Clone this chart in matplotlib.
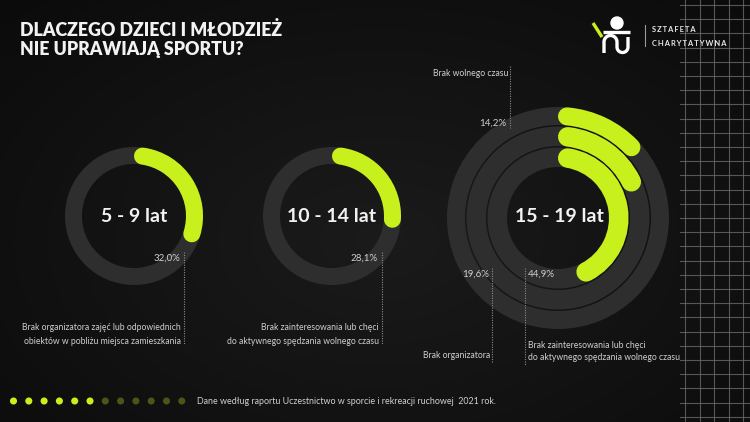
import matplotlib
matplotlib.use("Agg")
import matplotlib.pyplot as plt
import numpy as np
from matplotlib.patches import Wedge, Arc, Circle, PathPatch
from matplotlib.path import Path

# ---------------- data ----------------
title_lines = ["DLACZEGO DZIECI I MŁODZIEŻ", "NIE UPRAWIAJĄ SPORTU?"]
age_groups = ["5 - 9 lat", "10 - 14 lat", "15 - 19 lat"]
small_values = [32.0, 28.1]
small_reasons = [
    ["Brak organizatora zajęć lub odpowiednich", "obiektów w pobliżu miejsca zamieszkania"],
    ["Brak zainteresowania lub chęci", "do aktywnego spędzania wolnego czasu"],
]
big_values = [14.2, 19.6, 44.9]  # outer, middle, inner ring
big_reasons = [
    ["Brak wolnego czasu"],
    ["Brak organizatora"],
    ["Brak zainteresowania lub chęci", "do aktywnego spędzania wolnego czasu"],
]
footer_text = "Dane według raportu Uczestnictwo w sporcie i rekreacji ruchowej  2021 rok."
logo_lines = ["SZTAFETA", "CHARYTATYWNA"]
footer_dots_on = 6
footer_dots_total = 12

# ---------------- style ----------------
W, H = 750, 422
GREEN = "#c8f01c"
DIM = "#4a5519"
RING = "#2e2e2e"
TXT = "#f2f2f2"
LBL = "#cfcfcf"
FONT = "Lato"
SMALL = 6.2

fig = plt.figure(figsize=(W / 100, H / 100), dpi=100)
ax = fig.add_axes([0, 0, 1, 1])
ax.set_xlim(0, W)
ax.set_ylim(0, H)
ax.set_aspect("equal")
ax.axis("off")


def Y(py):
    return H - py


def fmt(v):
    return f"{v:.1f}%".replace(".", ",")


# background gradient
yy, xx = np.mgrid[0:H, 0:W]
d = np.sqrt(((xx - 380) / 520.0) ** 2 + ((yy - 240) / 330.0) ** 2)
v = np.clip(0.105 - 0.06 * d, 0.035, 0.11)
bg = np.dstack([v, v, v])
ax.imshow(bg, extent=[0, W, 0, H], origin="upper", zorder=0, interpolation="bilinear")

# grid on the right
gx0 = 680
for gx in np.arange(685, W, 14.5):
    ax.plot([gx, gx], [0, H], color="#6a6a6a", lw=0.8, alpha=0.8, zorder=1)
for gy in np.arange(5, H, 14.2):
    ax.plot([gx0, W], [Y(gy), Y(gy)], color="#6a6a6a", lw=0.8, alpha=0.8, zorder=1)


def ring_arc(cx, cy, r_in, r_out, pct, z=3):
    thick = r_out - r_in
    r_mid = (r_in + r_out) / 2
    ax.add_patch(Wedge((cx, Y(cy)), r_out, 0, 360, width=thick, color=RING, zorder=2, lw=0))
    cap = np.degrees((thick / 2) / r_mid)
    sweep = 360 * pct / 100.0
    theta2 = 90 - cap
    theta1 = 90 - sweep + cap
    lw_pt = thick * 72 / 100.0
    arc = Arc((cx, Y(cy)), 2 * r_mid, 2 * r_mid, theta1=theta1, theta2=theta2,
              color=GREEN, lw=lw_pt, zorder=z)
    arc.set_capstyle("round")
    ax.add_patch(arc)


def dotted(x, y0, y1):
    ax.plot([x, x], [Y(y0), Y(y1)], color="#8a8a8a", lw=0.8,
            linestyle=(0, (1, 1.2)), zorder=4)


# ---------- small donuts ----------
small_centers = [(134, 216), (332, 216)]
for i, (cx, cy) in enumerate(small_centers):
    ring_arc(cx, cy, 52, 69, small_values[i])
    ax.text(cx, Y(cy), age_groups[i], color=TXT, fontsize=14, fontweight="bold",
            family=FONT, ha="center", va="center", zorder=5)
    lx = cx + 50
    dotted(lx, 252, 344)
    ax.text(lx - 4, Y(258), fmt(small_values[i]), color=LBL,
            fontsize=7, family=FONT, ha="right", va="center", zorder=5)
    for j, line in enumerate(small_reasons[i]):
        ax.text(lx - 3, Y(328 + 13 * j), line, color=LBL, fontsize=SMALL, family=FONT,
                ha="right", va="center", zorder=5)

# ---------- big donut ----------
bcx, bcy = 558, 218
radii = [(93, 111), (72, 91.5), (51, 70.5)]
for (ri, ro), val in zip(radii, big_values):
    ring_arc(bcx, bcy, ri, ro, val)
ax.text(bcx + 1, Y(216), age_groups[2], color=TXT, fontsize=14, fontweight="bold",
        family=FONT, ha="center", va="center", zorder=5)

# outer label (top)
dotted(510, 66, 128)
ax.text(508, Y(73), big_reasons[0][0], color=LBL, fontsize=SMALL, family=FONT,
        ha="right", va="center", zorder=5)
ax.text(506, Y(123), fmt(big_values[0]), color=LBL, fontsize=7,
        family=FONT, ha="right", va="center", zorder=5)
# middle label
dotted(492, 268, 362)
ax.text(489, Y(274), fmt(big_values[1]), color=LBL, fontsize=7,
        family=FONT, ha="right", va="center", zorder=5)
ax.text(490, Y(356), big_reasons[1][0], color=LBL, fontsize=SMALL, family=FONT,
        ha="right", va="center", zorder=5)
# inner label
dotted(525, 268, 365)
ax.text(528, Y(274), fmt(big_values[2]), color=LBL, fontsize=7,
        family=FONT, ha="left", va="center", zorder=5)
for j, line in enumerate(big_reasons[2]):
    ax.text(528, Y(345 + 12 * j), line, color=LBL, fontsize=SMALL, family=FONT,
            ha="left", va="center", zorder=5)

# ---------- title ----------
for j, line in enumerate(title_lines):
    ax.text(20, Y(30 + 20 * j), line, color=TXT, fontsize=12.8, fontweight="heavy",
            family=FONT, ha="left", va="center", zorder=5)

# ---------- logo ----------
ax.add_patch(Circle((617, Y(23)), 6, color="white", zorder=5))
ax.plot([593, 602], [Y(23), Y(37)], color=GREEN, lw=2.4, solid_capstyle="butt", zorder=5)
ax.plot([603, 630], [Y(32), Y(32)], color="white", lw=2.4, solid_capstyle="butt", zorder=5)
t1 = np.linspace(np.pi, 0, 20)
t2 = np.linspace(np.pi, 2 * np.pi, 20)
wave = [(604, Y(53)), (604, Y(42))]
wave += [(610.5 + 6.5 * np.cos(t), Y(42 - 6.5 * np.sin(t))) for t in t1]
wave += [(617, Y(47))]
wave += [(622.5 + 5.5 * np.cos(t), Y(47 - 5.5 * np.sin(t))) for t in t2]
wave += [(628, Y(37))]
ax.add_patch(PathPatch(Path(wave), fill=False, edgecolor="white", lw=2.4,
                       capstyle="butt", joinstyle="round", zorder=5))
ax.plot([645, 645], [Y(25), Y(46)], color="#9a9a9a", lw=0.8, zorder=5)

for j, line in enumerate(logo_lines):
    ax.text(652, Y(30 + 13 * j), "\u2009".join(line), color="#e8e8e8", fontsize=5.4,
            fontweight="bold", family=[FONT, "DejaVu Sans"], ha="left", va="center",
            zorder=5)

# ---------- footer ----------
dot_x = 13.5 + 15.3 * np.arange(footer_dots_total)
dot_c = [GREEN if k < footer_dots_on else DIM for k in range(footer_dots_total)]
ax.scatter(dot_x, np.full(footer_dots_total, Y(401)), s=26, c=dot_c, zorder=5, lw=0)
ax.text(197, Y(401), footer_text, color=LBL, fontsize=6.4, family=FONT,
        ha="left", va="center", zorder=5)

fig.savefig("out.png", dpi=100, facecolor="#111111")
